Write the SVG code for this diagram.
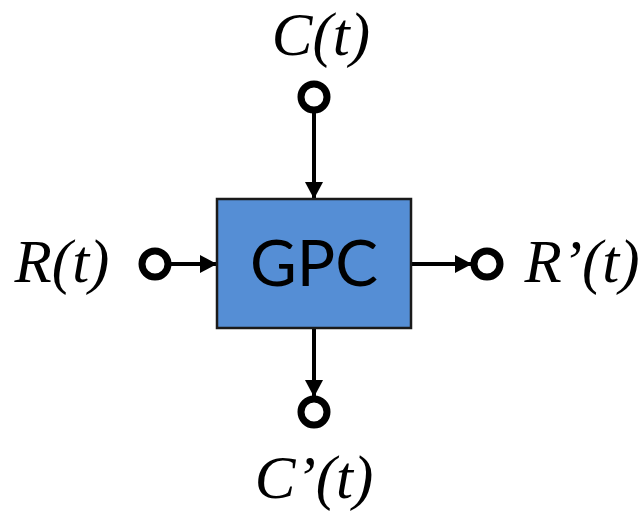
<svg xmlns="http://www.w3.org/2000/svg" width="644" height="513" viewBox="0 0 644 513">
  <style>
    .lbl { font-family: "Liberation Serif", "Times New Roman", serif; font-style: italic; font-size: 61px; fill: #000; }
    .port { fill: #fff; stroke: #000; stroke-width: 7; }
    .wire { stroke: #000; stroke-width: 4; fill: none; }
  </style>
  <defs>
    <marker id="arr" markerUnits="userSpaceOnUse" markerWidth="18" markerHeight="18" refX="17" refY="9" orient="auto">
      <path d="M0,0 L17,9 L0,18 Z" fill="#000"/>
    </marker>
  </defs>
  <rect width="644" height="513" fill="#fff"/>
  <g id="connectors">
    <line class="wire" x1="314" y1="112" x2="314" y2="199" marker-end="url(#arr)"/>
    <line class="wire" x1="170" y1="264" x2="217" y2="264" marker-end="url(#arr)"/>
    <line class="wire" x1="411" y1="264" x2="472" y2="264" marker-end="url(#arr)"/>
    <line class="wire" x1="314" y1="328" x2="314" y2="397" marker-end="url(#arr)"/>
  </g>
  <g id="gpc">
    <rect x="217" y="199" width="194" height="129" fill="#558ED5" stroke="#1a1a1a" stroke-width="2.5"/>
    <text x="314" y="286" text-anchor="middle" font-family="Lato, 'Open Sans', sans-serif" font-size="64" fill="#000">GPC</text>
  </g>
  <g id="c-in">
    <circle class="port" cx="314" cy="97" r="13"/>
    <text class="lbl" x="321" y="55" text-anchor="middle">C(t)</text>
  </g>
  <g id="r-in">
    <circle class="port" cx="155" cy="264" r="13"/>
    <text class="lbl" x="62" y="282" text-anchor="middle">R(t)</text>
  </g>
  <g id="r-out">
    <circle class="port" cx="487" cy="264" r="13"/>
    <text class="lbl" x="582" y="282" text-anchor="middle">R’(t)</text>
  </g>
  <g id="c-out">
    <circle class="port" cx="314" cy="412" r="13"/>
    <text class="lbl" x="314" y="498" text-anchor="middle">C’(t)</text>
  </g>
</svg>
